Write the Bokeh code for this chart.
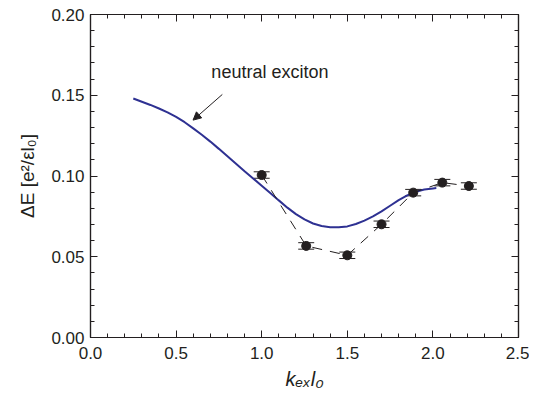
from bokeh.plotting import figure
from bokeh.models import (LinearAxis, SingleIntervalTicker, PrintfTickFormatter, Label,
                          Arrow, NormalHead, Whisker, TeeHead, ColumnDataSource,
                          CustomJSTickFormatter)
from bokeh.embed import file_html
from bokeh.resources import INLINE

# ---- data ----
curve_k = [0.25, 0.30, 0.35, 0.40, 0.45, 0.50, 0.55, 0.60, 0.65, 0.70, 0.75, 0.80,
           0.85, 0.90, 0.95, 1.00, 1.05, 1.10, 1.15, 1.20, 1.25, 1.30, 1.35, 1.40,
           1.45, 1.50, 1.55, 1.60, 1.65, 1.70, 1.75, 1.80, 1.85, 1.90, 1.95, 2.00, 2.02]
curve_e = [0.1480, 0.1460, 0.1440, 0.1418, 0.1394, 0.1366, 0.1333, 0.1295, 0.1255,
           0.1213, 0.1168, 0.1122, 0.1076, 0.1030, 0.0985, 0.0940, 0.0895, 0.0849,
           0.0804, 0.0764, 0.0731, 0.0706, 0.0690, 0.0683, 0.0682, 0.0688, 0.0703,
           0.0724, 0.0750, 0.0781, 0.0816, 0.0851, 0.0880, 0.0902, 0.0916, 0.0923, 0.0925]
pts_k = [1.0, 1.26, 1.50, 1.70, 1.885, 2.055, 2.21]
pts_e = [0.1006, 0.0567, 0.0509, 0.0701, 0.0897, 0.0959, 0.0938]
pts_err = [0.002, 0.002, 0.002, 0.002, 0.002, 0.002, 0.002]
x_ticks_interval = 0.5
y_ticks_interval = 0.05
x_label = "kₑₓl₀"
y_label = "ΔE [e²/εl₀]"
note = "neutral exciton"

INK = "#231f20"
BLUE = "#2e3192"
FONT = "Liberation Sans"

p = figure(width=529, height=392, x_range=(0, 2.5), y_range=(0, 0.2),
           output_backend="svg", toolbar_location=None,
           min_border_left=90, min_border_right=11, min_border_top=14, min_border_bottom=55,
           x_axis_location=None, y_axis_location=None)
p.grid.visible = False
p.outline_line_color = INK
p.outline_line_width = 1.2
p.background_fill_color = "white"
p.border_fill_color = "white"

blank = CustomJSTickFormatter(code="return ''")


def style_axis(ax, labels=True, fmt="%.1f", standoff=8):
    ax.axis_line_color = INK
    ax.axis_line_width = 1.2
    ax.major_tick_in = 7
    ax.major_tick_out = 0
    ax.minor_tick_in = 4
    ax.minor_tick_out = 0
    ax.major_tick_line_color = INK
    ax.minor_tick_line_color = INK
    if labels:
        ax.formatter = PrintfTickFormatter(format=fmt)
        ax.major_label_text_font = FONT
        ax.major_label_text_font_size = "17px"
        ax.major_label_text_color = INK
        ax.major_label_standoff = standoff
        ax.axis_label_text_font = FONT
        ax.axis_label_text_color = INK
        ax.axis_label_text_font_style = "normal"
    else:
        ax.formatter = blank
        ax.major_label_standoff = 0


xb = LinearAxis(ticker=SingleIntervalTicker(interval=x_ticks_interval, num_minor_ticks=5))
style_axis(xb, True, "%.1f", 9)
xb.axis_label = x_label
xb.axis_label_text_font_size = "20px"
xb.axis_label_text_font_style = "italic"
xb.axis_label_standoff = 6
p.add_layout(xb, "below")
xt = LinearAxis(ticker=SingleIntervalTicker(interval=x_ticks_interval, num_minor_ticks=5))
style_axis(xt, False)
p.add_layout(xt, "above")
yl = LinearAxis(ticker=SingleIntervalTicker(interval=y_ticks_interval, num_minor_ticks=5))
style_axis(yl, True, "%.2f", 6)
yl.axis_label = y_label
yl.axis_label_text_font_size = "19px"
yl.axis_label_standoff = 10
p.add_layout(yl, "left")
yr = LinearAxis(ticker=SingleIntervalTicker(interval=y_ticks_interval, num_minor_ticks=5))
style_axis(yr, False)
p.add_layout(yr, "right")

# theory curve
p.line(curve_k, curve_e, line_color=BLUE, line_width=2)

# data points with dashed connection and error caps
p.line(pts_k, pts_e, line_color=INK, line_width=1, line_dash="10 8")
src = ColumnDataSource(dict(x=pts_k, y=pts_e,
                            upper=[e + d for e, d in zip(pts_e, pts_err)],
                            lower=[e - d for e, d in zip(pts_e, pts_err)]))
p.add_layout(Whisker(base="x", upper="upper", lower="lower", source=src,
                     line_color=INK, line_width=1,
                     upper_head=TeeHead(size=16, line_color=INK, line_width=1),
                     lower_head=TeeHead(size=16, line_color=INK, line_width=1)))
p.scatter("x", "y", source=src, size=9, color=INK)

# annotation
p.add_layout(Label(x=0.706, y=0.158, text=note, text_font=FONT,
                   text_font_size="18px", text_color=INK))
p.add_layout(Arrow(end=NormalHead(size=8, fill_color=INK, line_color=INK),
                   x_start=0.77, y_start=0.1505, x_end=0.599, y_end=0.1346,
                   line_color=INK, line_width=1))

open("out.html", "w").write(file_html(p, INLINE))
